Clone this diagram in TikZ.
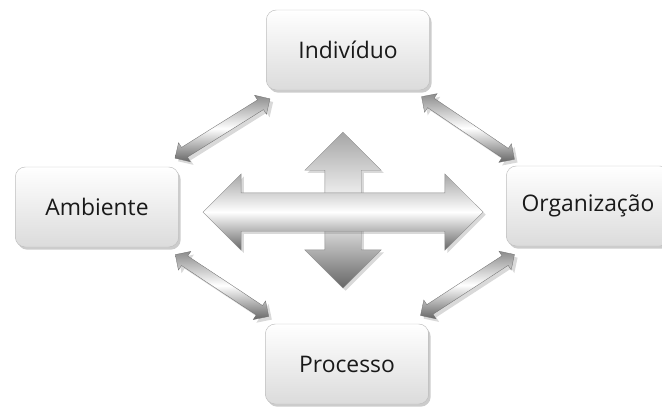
\documentclass[tikz,border=0pt]{standalone}
\usepackage{fontspec}
\setmainfont{Open Sans}
\usetikzlibrary{shapes.arrows, shadows, calc}

\begin{document}
\begin{tikzpicture}[x=0.03cm, y=-0.03cm,
	caixa/.style={draw=gray!50, line width=0.4pt, rounded corners=0.3cm, top color=white, bottom color=gray!28, minimum width=4.9cm, minimum height=2.4cm, font=\fontsize{19.5}{24}\selectfont, text=black!90, drop shadow={opacity=0.4, shadow xshift=0.6mm, shadow yshift=-0.8mm}},
	seta/.style={double arrow, draw=black!55, line width=0.3pt, inner xsep=0pt, inner ysep=0.165cm, double arrow head extend=0.165cm, minimum height=3.36cm, top color=black!45, bottom color=black!60, middle color=white, drop shadow={opacity=0.3}},
	cruz/.style={double arrow, draw=black!45, line width=0.3pt, inner xsep=0pt, top color=black!35, bottom color=black!60, middle color=white, drop shadow={opacity=0.3, shadow xshift=0.8mm, shadow yshift=-0.8mm}}]
	
	\useasboundingbox (0, 0) rectangle (662, 407);
	
	% Caixas
	\node[caixa] (ind) at (348, 50) {Indivíduo};
	\node[caixa] (amb) at (97, 207) {Ambiente};
	\node[caixa] (org) at (588, 206) {Organização};
	\node[caixa] (proc) at (347, 364) {Processo};
	
	% Setas entre caixas
	\node[seta, rotate=32] (s1) at ($(amb.north east)!0.5!(ind.south west)$) {};
	\node[seta, rotate=-34] (s2) at ($(ind.south east)!0.5!(org.north west)$) {};
	\node[seta, rotate=-33.5] (s3) at ($(amb.south east)!0.5!(proc.north west)$) {};
	\node[seta, rotate=33] (s4) at ($(org.south west)!0.5!(proc.north east)$) {};
	
	% Cruz central
	\node[cruz, rotate=90, inner ysep=0.54cm, double arrow head extend=0.6cm, minimum height=4.68cm] (cv) at (343, 210) {};
	\node[cruz, inner ysep=0.57cm, double arrow head extend=0.57cm, minimum height=8.4cm] (ch) at (343, 212) {};
	
\end{tikzpicture}
\end{document}
